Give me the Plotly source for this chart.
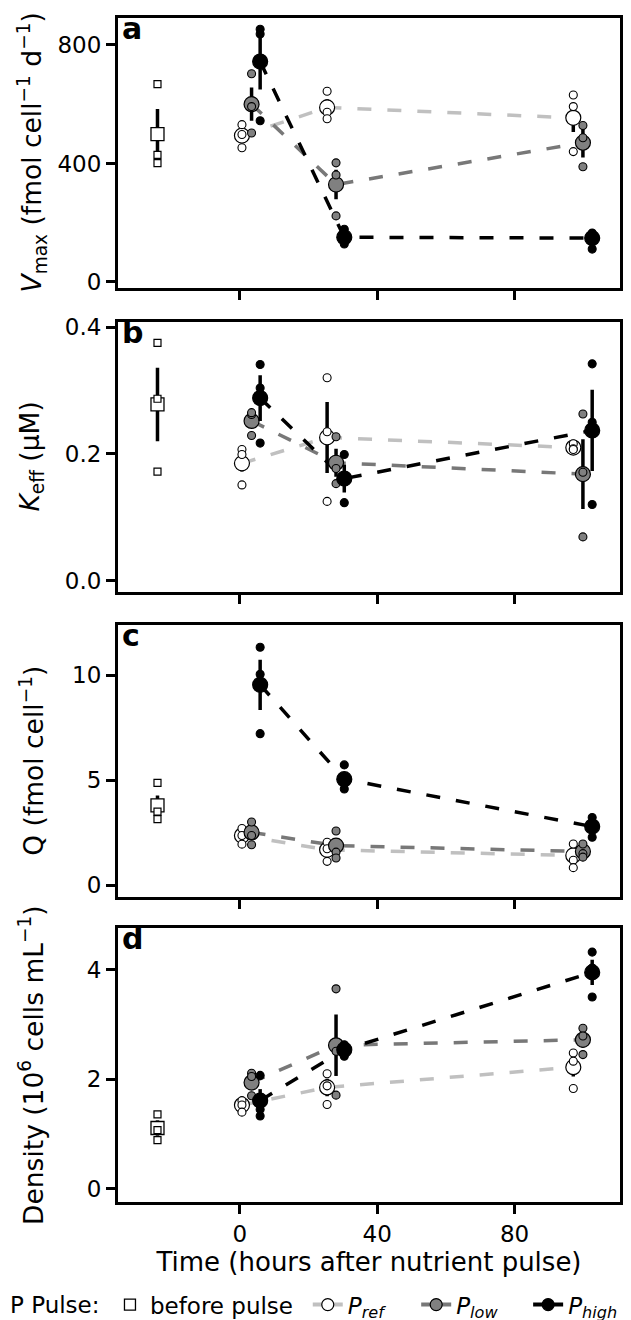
import plotly.graph_objects as go

# ---------------- data ----------------
x_before = -24.0
x_ref = [0.6, 25.4, 97.1]
x_low = [3.4, 28.0, 99.9]
x_high = [5.9, 30.4, 102.6]

# panel a : Vmax
a_before_reps = [668, 429, 401]
a_before_mean = 499
a_before_se = 85
a_ref_reps = [[531, 498, 453], [644, 573, 551], [631, 592, 440]]
a_ref_mean = [494, 589, 554]
a_ref_se = [23, 28, 48]
a_low_reps = [[703, 592, 503], [402, 361, 223], [528, 487, 389]]
a_low_mean = [600, 329, 470]
a_low_se = [56, 50, 50]
a_high_reps = [[853, 837, 544], [178, 150, 128], [165, 160, 111]]
a_high_mean = [744, 151, 148]
a_high_se = [94, 14, 16]

# panel b : Keff
b_before_reps = [0.375, 0.287, 0.172]
b_before_mean = 0.278
b_before_se = 0.058
b_ref_reps = [[0.207, 0.199, 0.151], [0.320, 0.235, 0.125], [0.216, 0.208, 0.207]]
b_ref_mean = [0.185, 0.226, 0.210]
b_ref_se = [0.013, 0.056, 0.003]
b_low_reps = [[0.262, 0.265, 0.229], [0.227, 0.177, 0.153], [0.263, 0.171, 0.069]]
b_low_mean = [0.252, 0.186, 0.168]
b_low_se = [0.011, 0.022, 0.055]
b_high_reps = [[0.341, 0.304, 0.217], [0.199, 0.162, 0.123], [0.342, 0.250, 0.120]]
b_high_mean = [0.288, 0.161, 0.237]
b_high_se = [0.036, 0.022, 0.064]

# panel c : Q
c_before_reps = [4.87, 3.50, 3.14]
c_before_mean = 3.80
c_before_se = 0.47
c_ref_reps = [[2.70, 2.36, 1.95], [2.04, 1.73, 1.13], [1.96, 1.18, 0.83]]
c_ref_mean = [2.36, 1.68, 1.41]
c_ref_se = [0.20, 0.25, 0.30]
c_low_reps = [[3.01, 2.36, 1.92], [2.58, 1.57, 1.29], [1.96, 1.50, 1.33]]
c_low_mean = [2.51, 1.88, 1.60]
c_low_se = [0.30, 0.35, 0.18]
c_high_reps = [[11.34, 10.05, 7.22], [5.73, 4.85, 4.58], [3.22, 2.85, 2.28]]
c_high_mean = [9.55, 5.05, 2.79]
c_high_se = [1.20, 0.35, 0.28]

# panel d : Density
d_before_reps = [1.36, 1.07, 0.89]
d_before_mean = 1.11
d_before_se = 0.14
d_ref_reps = [[1.61, 1.53, 1.40], [2.10, 1.88, 1.54], [2.48, 2.33, 1.83]]
d_ref_mean = [1.53, 1.85, 2.22]
d_ref_se = [0.06, 0.16, 0.17]
d_low_reps = [[2.11, 2.05, 1.70], [3.65, 2.51, 1.71], [2.93, 2.79, 2.45]]
d_low_mean = [1.94, 2.62, 2.72]
d_low_se = [0.12, 0.56, 0.14]
d_high_reps = [[2.07, 1.45, 1.33], [2.63, 2.55, 2.42], [4.32, 4.03, 3.50]]
d_high_mean = [1.61, 2.54, 3.95]
d_high_se = [0.21, 0.06, 0.23]

panel_letters = ["a", "b", "c", "d"]
y_titles = [
    "<i>V</i><sub>max</sub> (fmol cell<sup>−1</sup> d<sup>−1</sup>)",
    "<i>K</i><sub>eff</sub> (μM)",
    "Q (fmol cell<sup>−1</sup>)",
    "Density (10<sup>6</sup> cells mL<sup>−1</sup>)",
]
y_tickvals = [[0, 400, 800], [0.0, 0.2, 0.4], [0, 5, 10], [0, 2, 4]]
y_ticktext = [["0", "400", "800"], ["0.0", "0.2", "0.4"], ["0", "5", "10"], ["0", "2", "4"]]
x_tickvals = [0, 40, 80]
x_title = "Time (hours after nutrient pulse)"
legend_title = "P Pulse:"
legend_names = ["before pulse", "<i>P<sub>ref</sub></i>", "<i>P<sub>low</sub></i>", "<i>P<sub>high</sub></i>"]

panels = [
    (a_before_reps, a_before_mean, a_before_se, a_ref_reps, a_ref_mean, a_ref_se,
     a_low_reps, a_low_mean, a_low_se, a_high_reps, a_high_mean, a_high_se),
    (b_before_reps, b_before_mean, b_before_se, b_ref_reps, b_ref_mean, b_ref_se,
     b_low_reps, b_low_mean, b_low_se, b_high_reps, b_high_mean, b_high_se),
    (c_before_reps, c_before_mean, c_before_se, c_ref_reps, c_ref_mean, c_ref_se,
     c_low_reps, c_low_mean, c_low_se, c_high_reps, c_high_mean, c_high_se),
    (d_before_reps, d_before_mean, d_before_se, d_ref_reps, d_ref_mean, d_ref_se,
     d_low_reps, d_low_mean, d_low_se, d_high_reps, d_high_mean, d_high_se),
]

# ---------------- styles ----------------
FONT = "DejaVu Sans"
REF_FILL, LOW_FILL, HIGH_FILL = "white", "#808080", "black"
REF_LINE, LOW_LINE, HIGH_LINE = "#c0c0c0", "#787878", "black"
DASH = "14px,16px"

y_ranges = [[-19, 891], [-0.0176, 0.4078], [-0.565, 12.39], [-0.24, 4.751]]
y_domains = [[0.7723, 1.0], [0.5154, 0.7431], [0.2577, 0.4871], [0.0, 0.2310]]
x_range = [-35.5, 110.7]

fig = go.Figure()


def flat(xs, reps):
    xx, yy = [], []
    for x, r in zip(xs, reps):
        for v in r:
            xx.append(x)
            yy.append(v)
    return xx, yy


for i, p in enumerate(panels):
    (bre, bme, bse, rre, rme, rse, lre, lme, lse, hre, hme, hse) = p
    ax = "" if i == 0 else str(i + 1)
    xa, ya = "x" + ax, "y" + ax
    # dashed mean lines
    for xs, ms, col in [(x_ref, rme, REF_LINE), (x_low, lme, LOW_LINE), (x_high, hme, HIGH_LINE)]:
        fig.add_trace(go.Scatter(x=xs, y=ms, mode="lines", xaxis=xa, yaxis=ya,
                                 line=dict(color=col, width=3.5, dash=DASH),
                                 showlegend=False, hoverinfo="skip"))
    # before pulse: mean (+SE), then replicates on top
    fig.add_trace(go.Scatter(x=[x_before], y=[bme], mode="markers", xaxis=xa, yaxis=ya,
                             error_y=dict(type="data", array=[bse], thickness=3.5, width=0, color="black"),
                             marker=dict(symbol="square", size=13, color="white",
                                         line=dict(color="black", width=1.3)),
                             showlegend=False))
    fig.add_trace(go.Scatter(x=[x_before] * len(bre), y=bre, mode="markers", xaxis=xa, yaxis=ya,
                             marker=dict(symbol="square", size=7, color="white",
                                         line=dict(color="black", width=1.2)),
                             showlegend=False))
    for xs, reps, ms, ses, fill in [(x_ref, rre, rme, rse, REF_FILL),
                                    (x_low, lre, lme, lse, LOW_FILL),
                                    (x_high, hre, hme, hse, HIGH_FILL)]:
        fig.add_trace(go.Scatter(x=xs, y=ms, mode="markers", xaxis=xa, yaxis=ya,
                                 error_y=dict(type="data", array=ses, thickness=3.5, width=0, color="black"),
                                 marker=dict(symbol="circle", size=15, color=fill,
                                             line=dict(color="black", width=1.2)),
                                 showlegend=False))
        xx, yy = flat(xs, reps)
        fig.add_trace(go.Scatter(x=xx, y=yy, mode="markers", xaxis=xa, yaxis=ya,
                                 marker=dict(symbol="circle", size=8, color=fill,
                                             line=dict(color="black", width=1.1)),
                                 showlegend=False))

    common = dict(showline=True, linewidth=3, linecolor="black", mirror=True,
                  ticks="outside", ticklen=9, tickwidth=2.5, tickcolor="black",
                  showgrid=False, zeroline=False,
                  tickfont=dict(family=FONT, size=23, color="black"))
    fig.layout["xaxis" + ax] = dict(domain=[0, 1], anchor=ya, range=x_range,
                                    tickvals=x_tickvals, showticklabels=(i == 3), **common)
    fig.layout["yaxis" + ax] = dict(domain=y_domains[i], anchor=xa, range=y_ranges[i],
                                    tickvals=y_tickvals[i], ticktext=y_ticktext[i], **common)
    if i == 3:
        fig.layout["xaxis" + ax].title = dict(text=x_title, font=dict(family=FONT, size=26, color="black"),
                                              standoff=2)
    # y title
    fig.add_annotation(text=y_titles[i], xref="paper", yref="paper", x=-0.172,
                       y=sum(y_domains[i]) / 2, xanchor="center", yanchor="middle",
                       textangle=-90, showarrow=False,
                       font=dict(family=FONT, size=26.5, color="black"))
    # panel letter
    fig.add_annotation(text="<b>%s</b>" % panel_letters[i], xref=xa + " domain", yref=ya + " domain",
                       x=0.004, y=1, yshift=9, xanchor="left", yanchor="top", showarrow=False,
                       font=dict(family=FONT, size=30, color="black"))

# legend title as text
fig.add_annotation(text=legend_title, xref="paper", yref="paper", x=-0.219, y=-0.0867,
                   xanchor="left", yanchor="middle", showarrow=False,
                   font=dict(family=FONT, size=23, color="black"))

# legend-only traces, each in its own legend box
fig.add_trace(go.Scatter(x=[None], y=[None], mode="markers", name=legend_names[0], legend="legend",
                         marker=dict(symbol="square", size=11, color="white", line=dict(color="black", width=1.3))))
for name, fill, col, lg in [(legend_names[1], REF_FILL, REF_LINE, "legend2"),
                            (legend_names[2], LOW_FILL, LOW_LINE, "legend3"),
                            (legend_names[3], HIGH_FILL, HIGH_LINE, "legend4")]:
    fig.add_trace(go.Scatter(x=[None], y=[None], mode="lines+markers", name=name, legend=lg,
                             line=dict(color=col, width=4),
                             marker=dict(symbol="circle", size=12, color=fill, line=dict(color="black", width=1.2))))

leg_common = dict(orientation="h", xanchor="left", y=-0.0867, yanchor="middle",
                  font=dict(family=FONT, size=23, color="black"),
                  itemwidth=30, bgcolor="rgba(0,0,0,0)", borderwidth=0)

fig.update_layout(
    width=631, height=1320,
    margin=dict(l=110, r=19, t=2, b=119),
    paper_bgcolor="white", plot_bgcolor="white",
    font=dict(family=FONT, size=23, color="black"),
    showlegend=True,
    legend=dict(x=-0.016, **leg_common),
    legend2=dict(x=0.378, **leg_common),
    legend3=dict(x=0.594, **leg_common),
    legend4=dict(x=0.817, **leg_common),
)

fig.write_html("out.html")
